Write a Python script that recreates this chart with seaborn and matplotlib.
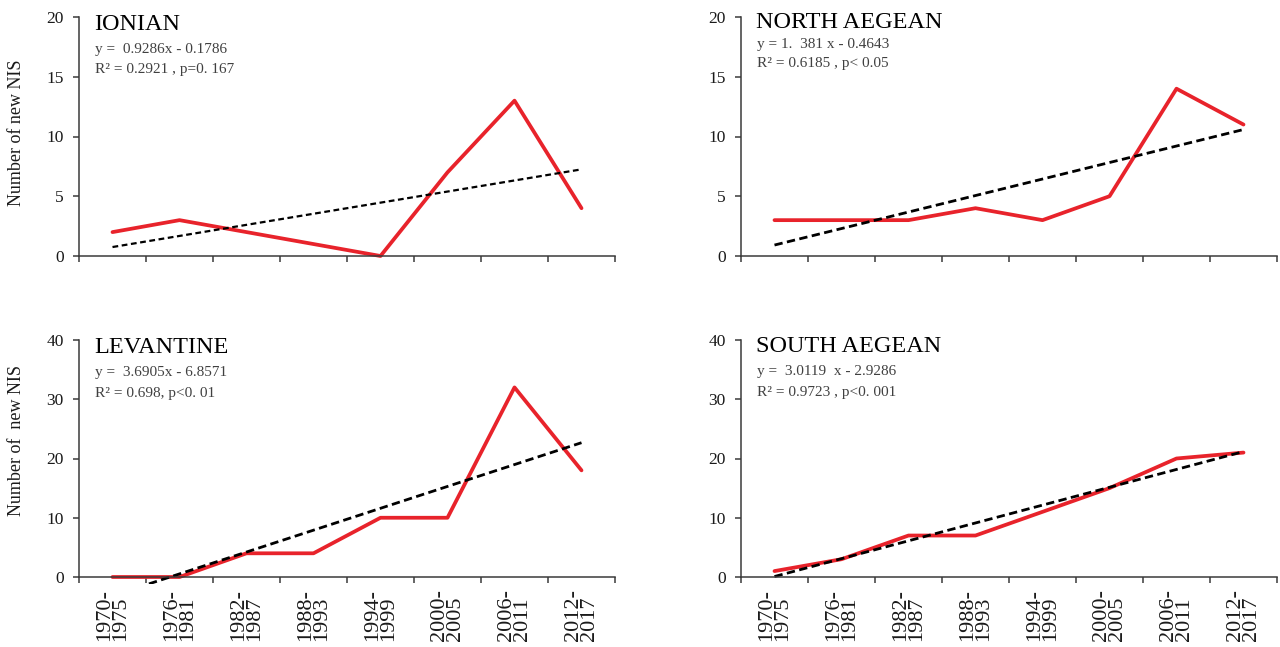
import matplotlib
matplotlib.use("Agg")
import matplotlib.pyplot as plt
import matplotlib.transforms as mtransforms
import numpy as np
import pandas as pd
import seaborn as sns

# periods on the x axis (same for all four panels)
periods = ["1970-\n1975", "1976-\n1981", "1982-\n1987", "1988-\n1993",
           "1994-\n1999", "2000-\n2005", "2006-\n2011", "2012-\n2017"]

# number of new NIS per period
ionian = [2, 3, 2, 1, 0, 7, 13, 4]
north_aegean = [3, 3, 3, 4, 3, 5, 14, 11]
levantine = [0, 0, 4, 4, 10, 10, 32, 18]
south_aegean = [1, 3, 7, 7, 11, 15, 20, 21]

regions = ["IONIAN", "NORTH AEGEAN", "LEVANTINE", "SOUTH AEGEAN"]
equations = ["y =  0.9286x - 0.1786", "y = 1.  381 x - 0.4643",
             "y =  3.6905x - 6.8571", "y =  3.0119  x - 2.9286"]
stats = ["R\u00b2 = 0.2921 , p=0. 167", "R\u00b2 = 0.6185 , p< 0.05",
         "R\u00b2 = 0.698, p<0. 01", "R\u00b2 = 0.9723 , p<0. 001"]
y_max = [20, 20, 40, 40]
y_step = [5, 5, 10, 10]
ylabels = ["Number of new NIS", None, "Number of  new NIS", None]

sns.set_style("ticks")
plt.rcParams['font.family'] = ['Liberation Serif', 'DejaVu Serif']

W, H = 1280, 647
fig = plt.figure(figsize=(W / 100, H / 100), dpi=100)

# panel frames in pixels: left, right, y of value 0, y of top value
frames = [(79, 615, 256, 17), (741, 1277, 256, 17),
          (79, 615, 577, 340), (741, 1277, 577, 340)]
# text baselines (in data units) and label centre (pixel)
text_y = [(18.9, 17.0, 15.3), (19.1, 17.4, 15.8),
          (37.8, 33.9, 30.4), (38.0, 34.1, 30.5)]
label_center = [133, None, 440, None]

red = '#e8232b'
axis_col = '#3a3a3a'
series = [ionian, north_aegean, levantine, south_aegean]

for i, vals in enumerate(series):
    left, right, y0, ytop = frames[i]
    ymax = y_max[i]
    ppu = (y0 - ytop) / ymax
    pad = 0.03 * ymax
    bottom_px = y0 + pad * ppu
    ax = fig.add_axes([left / W, (H - bottom_px) / H,
                       (right - left) / W, (bottom_px - ytop) / H])

    df = pd.DataFrame({'x': np.arange(len(periods)), 'y': vals})
    sns.lineplot(data=df, x='x', y='y', color=red, lw=2.7, ax=ax)
    sns.regplot(data=df, x='x', y='y', scatter=False, ci=None, ax=ax,
                color='black',
                line_kws=dict(lw=1.6 if i == 0 else 2.0,
                              ls=(0, (2.6, 1.6) if i == 0 else (3.0, 1.6))))

    ax.set_xlim(-0.5, len(periods) - 0.5)
    ax.set_ylim(-pad, ymax)
    ax.set_yticks(np.arange(0, ymax + 1, y_step[i]))

    for s in ['top', 'right']:
        ax.spines[s].set_visible(False)
    ax.spines['bottom'].set_position(('data', 0))
    ax.spines['left'].set_bounds(0, ymax)
    for s in ['left', 'bottom']:
        ax.spines[s].set_color(axis_col)
        ax.spines[s].set_linewidth(1.1)

    # boundary ticks (major) and period labels (minor)
    ax.set_xticks(np.arange(-0.5, len(periods), 1))
    ax.set_xticklabels([])
    ax.tick_params(axis='x', which='major', direction='out', length=4,
                   width=1.1, color=axis_col)
    if i >= 2:
        ax.set_xticks(np.arange(len(periods)), minor=True)
        ax.set_xticklabels(periods, minor=True, rotation=90, fontsize=16,
                           linespacing=0.82, color='#1a1a1a')
        for lbl in ax.get_xticklabels(minor=True):
            lbl.set_multialignment('left')
        ax.tick_params(axis='x', which='minor', length=0, pad=9)
    ax.tick_params(axis='y', direction='out', length=4, width=1.1,
                   color=axis_col, labelsize=12.5, labelcolor='#1a1a1a', pad=7)

    ax.set_xlabel('')
    if ylabels[i]:
        ax.set_ylabel(ylabels[i], fontsize=13, color='#1a1a1a')
        ax.yaxis.set_label_coords(
            (25 - left) / (right - left),
            (bottom_px - label_center[i]) / (bottom_px - ytop))
    else:
        ax.set_ylabel('')

    trans = mtransforms.blended_transform_factory(ax.transAxes, ax.transData)
    ty, ey, ry = text_y[i]
    ax.text(0.028, ty, regions[i], transform=trans, fontsize=17.5,
            color='black', va='baseline')
    ax.text(0.03, ey, equations[i], transform=trans, fontsize=11,
            color='#404040', va='baseline')
    ax.text(0.03, ry, stats[i], transform=trans, fontsize=11,
            color='#404040', va='baseline')

fig.savefig('out.png', dpi=100)
